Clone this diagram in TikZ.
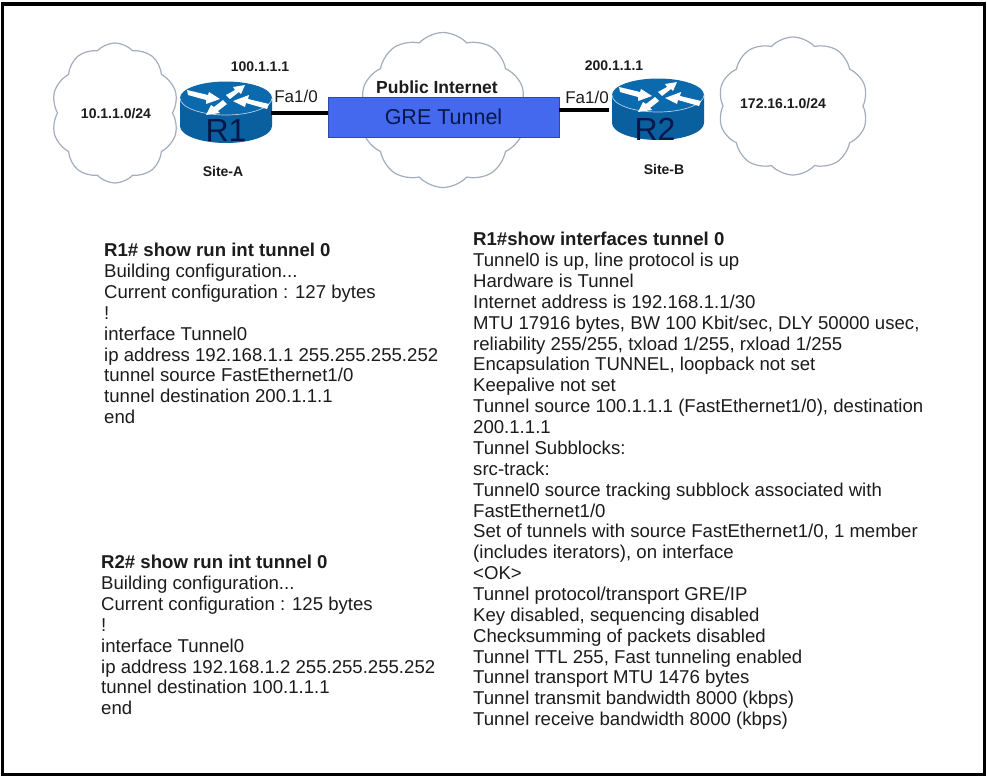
\documentclass[tikz,border=0pt]{standalone}
\usepackage{fontspec}
\setmainfont{Liberation Sans}
\usetikzlibrary{shapes.symbols}

\definecolor{cloudline}{HTML}{A3ADBC}
\definecolor{routerblue}{HTML}{0B69AE}
\definecolor{routerdark}{HTML}{0A5F9F}
\definecolor{tunnelblue}{HTML}{4468EE}
\definecolor{navytext}{HTML}{071848}
\definecolor{bodytext}{HTML}{1C1C1C}

\tikzset{
	netcloud/.style = {cloud, cloud puffs=10, cloud puff arc=95, draw=cloudline, line width=1.2pt, fill=white, aspect=1},
	smalllabel/.style = {font=\fontsize{14}{16}\selectfont\bfseries, text=bodytext, inner sep=0pt},
	portlabel/.style = {font=\fontsize{17}{19}\selectfont, text=bodytext, inner sep=0pt},
	routername/.style = {font=\fontsize{32}{34}\selectfont, text=navytext, inner sep=0pt},
	cliblock/.style = {font=\fontsize{18.6}{20.87}\selectfont, text=bodytext, align=left, anchor=north west, inner sep=0pt},
	link/.style = {line width=3.5pt, black},
	routerarrow/.style = {fill=white, draw=none},
	router/.pic = {
		\fill[routerdark] (-46,0) -- (-46,28) arc (180:0:46 and 17) -- (46,0) -- cycle;
		\fill[routerblue] (0,0) ellipse (46 and 16.5);
		\draw[white!70!routerblue, line width=0.7pt] (-46,0) arc (180:0:46 and 17);
		\fill[routerarrow] (-39,-8) -- (-18,-3) -- (-17,-6) -- (-6,1) -- (-20,6) -- (-20,2) -- (-38,-3) -- cycle;
		\fill[routerarrow] (0,-3) -- (9,-8) -- (7,-11) -- (19,-13) -- (15,-4) -- (13,-6) -- (4,1) -- cycle;
		\fill[routerarrow] (43,6) -- (22,1) -- (23,-3) -- (7,3) -- (19,9) -- (20,5) -- (41,11) -- cycle;
		\fill[routerarrow] (1,6) -- (-8,13) -- (-6,15) -- (-20,17) -- (-15,7) -- (-12,9) -- (-3,2) -- cycle;
	}
}

\begin{document}
\begin{tikzpicture}[x=1pt, y=-1pt]
	\useasboundingbox (0,0) rectangle (987,777);
	\fill[white] (0,0) rectangle (987,777);
	\draw[line width=3.5pt, black] (2.5,4) rectangle (984.5,774.5);

	% clouds
	\node[netcloud, minimum width=127pt, minimum height=140pt] (cloudA) at (115,113) {};
	\node[netcloud, minimum width=166pt, minimum height=155pt] (cloudNet) at (443,110) {};
	\node[netcloud, minimum width=150pt, minimum height=138pt] (cloudB) at (793,106) {};

	% routers
	\pic at (226,98) {router};
	\pic at (658,95) {router};
	\node[routername] (rone) at (226,130) {R1};
	\node[routername] (rtwo) at (655,129) {R2};
	\coordinate (ronePort) at (271,113);
	\coordinate (rtwoPort) at (609,110);

	% tunnel
	\node[draw=tunnelblue!70!black, fill=tunnelblue, line width=0.5pt, minimum width=231pt, minimum height=40pt, inner sep=0pt,
		font=\fontsize{21.5}{23}\selectfont, text=navytext] (tunnel) at (443.5,117) {GRE Tunnel};
	\draw[link] (ronePort) -- (ronePort -| tunnel.west);
	\draw[link] (rtwoPort) -- (rtwoPort -| tunnel.east);

	% labels
	\node[smalllabel] (netA) at (116,114) {10.1.1.0/24};
	\node[smalllabel] (netB) at (783,104) {172.16.1.0/24};
	\node[smalllabel] (ipA) at (260,67) {100.1.1.1};
	\node[smalllabel] (ipB) at (614,66) {200.1.1.1};
	\node[smalllabel] (siteA) at (223,171) {Site-A};
	\node[smalllabel] (siteB) at (664,169) {Site-B};
	\node[portlabel] (faA) at (296,96) {Fa1/0};
	\node[portlabel] (faB) at (587,97) {Fa1/0};
	\node[font=\fontsize{17.5}{19}\selectfont\bfseries, text=bodytext, inner sep=0pt] (inet) at (437,87) {Public Internet};

	% configs
	\node[cliblock] (cfgA) at (104,243) {\textbf{R1\# show run int tunnel 0}\\
		Building configuration...\\
		Current configuration : 127 bytes\\
		!\\
		interface Tunnel0\\
		ip address 192.168.1.1 255.255.255.252\\
		tunnel source FastEthernet1/0\\
		tunnel destination 200.1.1.1\\
		end};
	\node[cliblock] (cfgB) at (101,555) {\textbf{R2\# show run int tunnel 0}\\
		Building configuration...\\
		Current configuration : 125 bytes\\
		!\\
		interface Tunnel0\\
		ip address 192.168.1.2 255.255.255.252\\
		tunnel destination 100.1.1.1\\
		end};
	\node[cliblock] (showA) at (473,232) {\textbf{R1\#show interfaces tunnel 0}\\
		Tunnel0 is up, line protocol is up\\
		Hardware is Tunnel\\
		Internet address is 192.168.1.1/30\\
		MTU 17916 bytes, BW 100 Kbit/sec, DLY 50000 usec,\\
		reliability 255/255, txload 1/255, rxload 1/255\\
		Encapsulation TUNNEL, loopback not set\\
		Keepalive not set\\
		Tunnel source 100.1.1.1 (FastEthernet1/0), destination\\
		200.1.1.1\\
		Tunnel Subblocks:\\
		src-track:\\
		Tunnel0 source tracking subblock associated with\\
		FastEthernet1/0\\
		Set of tunnels with source FastEthernet1/0, 1 member\\
		(includes iterators), on interface\\
		<OK>\\
		Tunnel protocol/transport GRE/IP\\
		Key disabled, sequencing disabled\\
		Checksumming of packets disabled\\
		Tunnel TTL 255, Fast tunneling enabled\\
		Tunnel transport MTU 1476 bytes\\
		Tunnel transmit bandwidth 8000 (kbps)\\
		Tunnel receive bandwidth 8000 (kbps)};
\end{tikzpicture}
\end{document}
